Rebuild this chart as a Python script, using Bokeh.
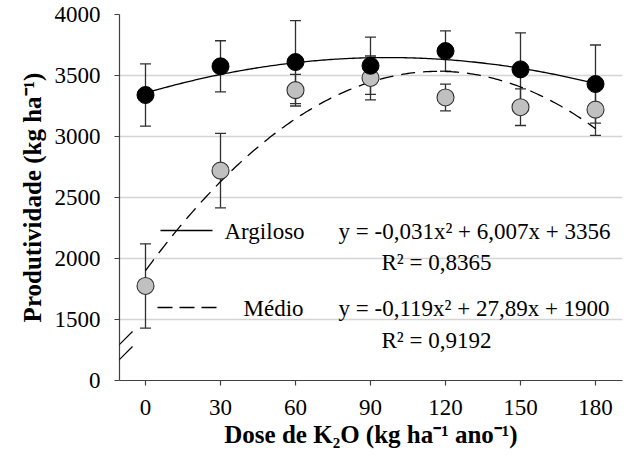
import numpy as np
from bokeh.plotting import figure
from bokeh.models import ColumnDataSource, Whisker, TeeHead, Label, Arrow, FixedTicker
from bokeh.embed import file_html
from bokeh.resources import INLINE

# ---- data ----
doses = [0, 30, 60, 90, 120, 150, 180]
argiloso_mean = [3340, 3575, 3610, 3580, 3700, 3550, 3430]
argiloso_err = [255, 210, 340, 235, 165, 300, 320]
medio_mean = [1775, 2720, 3380, 3480, 3320, 3240, 3220]
medio_err = [345, 305, 130, 180, 110, 150, 210]
# fitted trend equations shown in the chart (a, b, c for a*x^2 + b*x + c)
argiloso_coef = [-0.031, 6.007, 3356]
medio_coef = [-0.119, 27.89, 1900]
y_ticks = [1000, 1500, 2000, 2500, 3000, 3500, 4000]
y_tick_labels = ["0", "1500", "2000", "2500", "3000", "3500", "4000"]
eq_argiloso = "y = -0,031x² + 6,007x + 3356"
r2_argiloso = "R² = 0,8365"
eq_medio = "y = -0,119x² + 27,89x + 1900"
r2_medio = "R² = 0,9192"
x_title = "Dose de K₂O (kg ha⁻¹ ano⁻¹)"
y_title = "Produtividade (kg ha⁻¹)"

FONT = "Liberation Serif"
W, H = 624, 461
BL, BR, BT, BB = 119, 2, 14, 81
X0, X1 = -10.4, 190.8
Y0, Y1 = 1000, 4000
fw = W - BL - BR
fh = H - BT - BB

def px(xp, yp):
    """picture pixel -> data coordinates (for annotation placement)"""
    x = X0 + (xp - BL) / fw * (X1 - X0)
    y = Y1 - (yp - BT) / fh * (Y1 - Y0)
    return x, y

p = figure(width=W, height=H, x_range=(X0, X1), y_range=(Y0, Y1),
           output_backend="svg", toolbar_location=None,
           min_border_left=BL, min_border_right=BR, min_border_top=BT, min_border_bottom=BB)
p.outline_line_color = None
p.background_fill_color = "white"

# axes
for ax in (p.xaxis[0], p.yaxis[0]):
    ax.axis_line_color = "#404040"
    ax.axis_line_width = 1.2
    ax.major_tick_line_color = "#404040"
    ax.major_tick_line_width = 1.2
    ax.major_tick_out = 5
    ax.major_tick_in = 0
    ax.minor_tick_line_color = None
    ax.major_label_text_font = FONT
    ax.major_label_text_font_size = "23px"
    ax.major_label_text_color = "black"
    ax.axis_label_text_font = FONT
    ax.axis_label_text_font_style = "bold"
    ax.axis_label_text_color = "black"
p.xaxis.ticker = FixedTicker(ticks=doses)
p.xaxis.major_label_standoff = 14
p.xaxis.axis_label = x_title
p.xaxis.axis_label_text_font_size = "25px"
p.xaxis.axis_label_standoff = 3
p.yaxis.ticker = FixedTicker(ticks=y_ticks)
p.yaxis.major_label_overrides = {t: l for t, l in zip(y_ticks, y_tick_labels)}
p.yaxis.major_label_standoff = 14
p.yaxis.axis_label = y_title
p.yaxis.axis_label_text_font_size = "25px"
p.yaxis.axis_label_standoff = 6
p.xgrid.grid_line_color = None
p.ygrid.grid_line_color = "#d4d4d4"
p.ygrid.grid_line_width = 1.5
p.ygrid.ticker = FixedTicker(ticks=y_ticks[1:])

# trend curves
xs = np.linspace(doses[0], doses[-1], 200)
ya = argiloso_coef[0] * xs**2 + argiloso_coef[1] * xs + argiloso_coef[2]
ym = medio_coef[0] * xs**2 + medio_coef[1] * xs + medio_coef[2]
p.line(xs, ya, line_color="black", line_width=1.3)
p.line(xs, ym, line_color="black", line_width=1.3, line_dash="14 8")

src_m = ColumnDataSource(dict(x=doses, y=medio_mean,
                              lo=[m - e for m, e in zip(medio_mean, medio_err)],
                              hi=[m + e for m, e in zip(medio_mean, medio_err)]))
src_a = ColumnDataSource(dict(x=doses, y=argiloso_mean,
                              lo=[m - e for m, e in zip(argiloso_mean, argiloso_err)],
                              hi=[m + e for m, e in zip(argiloso_mean, argiloso_err)]))

p.scatter("x", "y", source=src_m, size=17, fill_color="#c0c0c0", line_color="#303030", line_width=1.1)
p.scatter("x", "y", source=src_a, size=17, fill_color="black", line_color="black", line_width=1)

for src in (src_m, src_a):
    w = Whisker(source=src, base="x", lower="lo", upper="hi",
                line_color="#303030", line_width=1.3,
                upper_head=TeeHead(size=11, line_color="#303030", line_width=1.3),
                lower_head=TeeHead(size=11, line_color="#303030", line_width=1.3))
    p.add_layout(w)

# axis break marks
for dy in (0, 15):
    xa, ya0 = px(108, 355 + dy)
    xb, yb0 = px(132, 331 + dy)
    p.add_layout(Arrow(end=None, x_start=xa, y_start=ya0, x_end=xb, y_end=yb0,
                       line_color="black", line_width=1.2))

# legend samples
xa, yl1 = px(160, 230)
xb, _ = px(212, 230)
p.add_layout(Arrow(end=None, x_start=xa, y_start=yl1, x_end=xb, y_end=yl1,
                   line_color="black", line_width=1.3))
xa, yl2 = px(157, 307)
xb, _ = px(220, 307)
p.add_layout(Arrow(end=None, x_start=xa, y_start=yl2, x_end=xb, y_end=yl2,
                   line_color="black", line_width=1.3, line_dash="15 7"))

def txt(text, xp, yp, align="left", size="23px"):
    x, y = px(xp, yp)
    p.add_layout(Label(x=x, y=y, text=text, text_font=FONT, text_font_size=size,
                       text_align=align, text_baseline="middle", text_color="black"))

txt("Argiloso", 224, 231)
txt(eq_argiloso, 338, 231)
txt(r2_argiloso, 436, 262, align="center")
txt("Médio", 243, 308)
txt(eq_medio, 338, 308)
txt(r2_medio, 436, 340, align="center")

open("out.html", "w").write(file_html(p, INLINE))
